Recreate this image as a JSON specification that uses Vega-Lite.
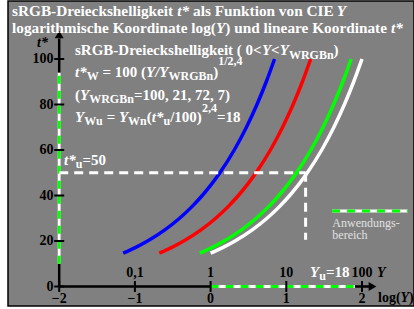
{
  "$schema": "https://vega.github.io/schema/vega-lite/v6.json",
  "width": 406,
  "height": 305,
  "autosize": {"type": "none"},
  "padding": {"left": 8, "top": 1, "right": 0, "bottom": 3},
  "background": "white",
  "config": {
    "view": {"fill": "#808080", "stroke": "#000000", "strokeWidth": 1.5}
  },
  "datasets": {
    "curves": [
      {"c": "Y7", "lx": -1.1549, "t": 14.68}, {"c": "Y7", "lx": -1.0018, "t": 17}, {"c": "Y7", "lx": -0.8324, "t": 20}, {"c": "Y7", "lx": -0.5998, "t": 25}, {"c": "Y7", "lx": -0.4098, "t": 30}, {"c": "Y7", "lx": -0.2491, "t": 35}, {"c": "Y7", "lx": -0.11, "t": 40}, {"c": "Y7", "lx": 0.0128, "t": 45}, {"c": "Y7", "lx": 0.1226, "t": 50}, {"c": "Y7", "lx": 0.3127, "t": 60}, {"c": "Y7", "lx": 0.4733, "t": 70}, {"c": "Y7", "lx": 0.6125, "t": 80}, {"c": "Y7", "lx": 0.7353, "t": 90}, {"c": "Y7", "lx": 0.8451, "t": 100},
      {"c": "Y21", "lx": -0.6778, "t": 14.68}, {"c": "Y21", "lx": -0.5247, "t": 17}, {"c": "Y21", "lx": -0.3553, "t": 20}, {"c": "Y21", "lx": -0.1227, "t": 25}, {"c": "Y21", "lx": 0.0673, "t": 30}, {"c": "Y21", "lx": 0.228, "t": 35}, {"c": "Y21", "lx": 0.3671, "t": 40}, {"c": "Y21", "lx": 0.4899, "t": 45}, {"c": "Y21", "lx": 0.5997, "t": 50}, {"c": "Y21", "lx": 0.7898, "t": 60}, {"c": "Y21", "lx": 0.9504, "t": 70}, {"c": "Y21", "lx": 1.0896, "t": 80}, {"c": "Y21", "lx": 1.2124, "t": 90}, {"c": "Y21", "lx": 1.3222, "t": 100},
      {"c": "Y72", "lx": -0.1427, "t": 14.68}, {"c": "Y72", "lx": 0.0104, "t": 17}, {"c": "Y72", "lx": 0.1798, "t": 20}, {"c": "Y72", "lx": 0.4124, "t": 25}, {"c": "Y72", "lx": 0.6024, "t": 30}, {"c": "Y72", "lx": 0.7631, "t": 35}, {"c": "Y72", "lx": 0.9022, "t": 40}, {"c": "Y72", "lx": 1.025, "t": 45}, {"c": "Y72", "lx": 1.1348, "t": 50}, {"c": "Y72", "lx": 1.3249, "t": 60}, {"c": "Y72", "lx": 1.4855, "t": 70}, {"c": "Y72", "lx": 1.6247, "t": 80}, {"c": "Y72", "lx": 1.7475, "t": 90}, {"c": "Y72", "lx": 1.8573, "t": 100},
      {"c": "Y100", "lx": 0.0, "t": 14.68}, {"c": "Y100", "lx": 0.1531, "t": 17}, {"c": "Y100", "lx": 0.3225, "t": 20}, {"c": "Y100", "lx": 0.5551, "t": 25}, {"c": "Y100", "lx": 0.7451, "t": 30}, {"c": "Y100", "lx": 0.9058, "t": 35}, {"c": "Y100", "lx": 1.0449, "t": 40}, {"c": "Y100", "lx": 1.1677, "t": 45}, {"c": "Y100", "lx": 1.2775, "t": 50}, {"c": "Y100", "lx": 1.4676, "t": 60}, {"c": "Y100", "lx": 1.6282, "t": 70}, {"c": "Y100", "lx": 1.7674, "t": 80}, {"c": "Y100", "lx": 1.8902, "t": 90}, {"c": "Y100", "lx": 2.0, "t": 100}
    ],
    "lines": [
      {"kind": "axis", "x1": -2, "y1": 0, "x2": -2, "y2": 109},
      {"kind": "axis", "x1": -2, "y1": 0, "x2": 2.12, "y2": 0},
      {"kind": "range", "x1": -2, "y1": 10, "x2": -2, "y2": 94},
      {"kind": "range", "x1": 0, "y1": 0, "x2": 1.907, "y2": 0},
      {"kind": "range", "x1": 1.604, "y1": 33.19, "x2": 2.608, "y2": 33.19},
      {"kind": "guide", "x1": -2, "y1": 50, "x2": 1.255, "y2": 50},
      {"kind": "guide", "x1": 1.255, "y1": 50, "x2": 1.255, "y2": 20.5}
    ],
    "yTicks": [{"v": 0, "txt": "0"}, {"v": 20, "txt": "20"}, {"v": 40, "txt": "40"}, {"v": 60, "txt": "60"}, {"v": 80, "txt": "80"}, {"v": 100, "txt": "100"}],
    "xTicks": [{"v": -2, "txt": "−2"}, {"v": -1, "txt": "−1"}, {"v": 0, "txt": "0"}, {"v": 1, "txt": "1"}, {"v": 2, "txt": "2"}],
    "arrows": [{"dir": "up", "ax": -2, "ay": 110.77}, {"dir": "right", "ax": 2.1387, "ay": 0}],
    "titleText": [
      {"txt": "sRGB-Dreieckshelligkeit", "lx": -2.6235, "ly": 118.9},
      {"txt": "als Funktion von CIE", "lx": -0.2325, "ly": 118.9},
      {"txt": "logarithmische Koordinate log(", "lx": -2.6235, "ly": 111.21},
      {"txt": ") und lineare Koordinate", "lx": 0.1948, "ly": 111.21}
    ],
    "titleItalic": [
      {"txt": "t*", "lx": -0.4399, "ly": 118.9},
      {"txt": "Y", "lx": 1.665, "ly": 118.9},
      {"txt": "Y", "lx": 0.0713, "ly": 111.21},
      {"txt": "t*", "lx": 2.3844, "ly": 111.21}
    ],
    "wb": [
      {"txt": "sRGB-Dreieckshelligkeit ( 0<", "lx": -1.7913, "ly": 101.76},
      {"txt": "<", "lx": 0.7992, "ly": 101.76},
      {"txt": ")", "lx": 1.6248, "ly": 101.76},
      {"txt": "= 100 (", "lx": -1.428, "ly": 92.09},
      {"txt": ")", "lx": 0.0343, "ly": 92.09},
      {"txt": "(", "lx": -1.7913, "ly": 81.98},
      {"txt": "=100, 21, 72, 7)", "lx": -1.0132, "ly": 81.98},
      {"txt": "=", "lx": -1.3732, "ly": 72.09},
      {"txt": "(", "lx": -0.8428, "ly": 72.09},
      {"txt": "/100)", "lx": -0.5337, "ly": 72.09},
      {"txt": "=18", "lx": 0.0832, "ly": 72.09},
      {"txt": "=50", "lx": -1.6935, "ly": 53.41},
      {"txt": "=18", "lx": 1.5231, "ly": 4.31}
    ],
    "wbi": [
      {"txt": "Y", "lx": 0.6777, "ly": 101.76},
      {"txt": "Y", "lx": 0.9128, "ly": 101.76},
      {"txt": "t*", "lx": -1.7913, "ly": 92.09},
      {"txt": "Y/Y", "lx": -0.8534, "ly": 92.09},
      {"txt": "Y", "lx": -1.7252, "ly": 81.98},
      {"txt": "Y", "lx": -1.7913, "ly": 72.09},
      {"txt": "Y", "lx": -1.2107, "ly": 72.09},
      {"txt": "t*", "lx": -0.7768, "ly": 72.09},
      {"txt": "t*", "lx": -1.9366, "ly": 53.41},
      {"txt": "Y", "lx": 1.3131, "ly": 4.31}
    ],
    "wsub": [
      {"txt": "WRGBn", "lx": 1.0343, "ly": 100.0},
      {"txt": "W", "lx": -1.6367, "ly": 90.77},
      {"txt": "WRGBn", "lx": -0.5561, "ly": 90.77},
      {"txt": "1/2,4", "lx": 0.1004, "ly": 97.5},
      {"txt": "WRGBn", "lx": -1.6037, "ly": 80.66},
      {"txt": "Wu", "lx": -1.6697, "ly": 70.77},
      {"txt": "Wn", "lx": -1.0898, "ly": 70.77},
      {"txt": "u", "lx": -0.6222, "ly": 70.77},
      {"txt": "2,4", "lx": -0.1149, "ly": 76.7},
      {"txt": "u", "lx": -1.782, "ly": 52.09},
      {"txt": "u", "lx": 1.4346, "ly": 2.86}
    ],
    "kc": [{"txt": "0,1", "lx": -1}, {"txt": "1", "lx": 0}, {"txt": "10", "lx": 1}, {"txt": "100", "lx": 2}],
    "kb": [{"txt": "log(", "lx": 2.2114, "ly": -6.81}, {"txt": ")", "lx": 2.6222, "ly": -6.81}],
    "kbi": [{"txt": "Y", "lx": 2.5093, "ly": -6.81}, {"txt": "Y", "lx": 2.1982, "ly": 4.31}, {"txt": "t*", "lx": -2.2933, "ly": 105.2}],
    "note": [{"txt": "Anwendungs-", "lx": 1.6077, "ly": 26.29}, {"txt": "bereich", "lx": 1.6077, "ly": 20.88}]
  },
  "layer": [
    {
      "data": {"name": "lines"},
      "transform": [{"filter": "datum.kind == 'axis'"}],
      "mark": {"type": "rule", "color": "#000000", "strokeWidth": 2.5},
      "encoding": {
        "x": {"field": "x1", "type": "quantitative", "scale": {"domain": [-2.6764, 2.6869], "nice": false, "zero": false}, "axis": null},
        "y": {"field": "y1", "type": "quantitative", "scale": {"domain": [-8.571, 125.495], "nice": false, "zero": false}, "axis": null},
        "x2": {"field": "x2"}, "y2": {"field": "y2"}
      }
    },
    {
      "data": {"name": "curves"},
      "mark": {"type": "line", "strokeWidth": 3.5, "interpolate": "monotone"},
      "encoding": {
        "x": {"field": "lx", "type": "quantitative", "axis": null},
        "y": {"field": "t", "type": "quantitative", "axis": null},
        "color": {"field": "c", "type": "nominal", "scale": {"domain": ["Y7", "Y21", "Y72", "Y100"], "range": ["#0000ff", "#ff0000", "#00ff00", "#ffffff"]}, "legend": null}
      }
    },
    {
      "data": {"name": "lines"},
      "transform": [{"filter": "datum.kind == 'range'"}],
      "mark": {"type": "rule", "color": "#ffffff", "strokeWidth": 3},
      "encoding": {"x": {"field": "x1", "type": "quantitative", "axis": null}, "y": {"field": "y1", "type": "quantitative", "axis": null}, "x2": {"field": "x2"}, "y2": {"field": "y2"}}
    },
    {
      "data": {"name": "lines"},
      "transform": [{"filter": "datum.kind == 'range'"}],
      "mark": {"type": "rule", "color": "#00ff00", "strokeWidth": 3, "strokeDash": [8, 7]},
      "encoding": {"x": {"field": "x1", "type": "quantitative", "axis": null}, "y": {"field": "y1", "type": "quantitative", "axis": null}, "x2": {"field": "x2"}, "y2": {"field": "y2"}}
    },
    {
      "data": {"name": "lines"},
      "transform": [{"filter": "datum.kind == 'guide'"}],
      "mark": {"type": "rule", "color": "#ffffff", "strokeWidth": 3, "strokeDash": [9, 6]},
      "encoding": {"x": {"field": "x1", "type": "quantitative", "axis": null}, "y": {"field": "y1", "type": "quantitative", "axis": null}, "x2": {"field": "x2"}, "y2": {"field": "y2"}}
    },
    {
      "data": {"name": "yTicks"},
      "mark": {"type": "tick", "orient": "horizontal", "size": 10, "thickness": 2, "color": "#000000", "opacity": 1},
      "encoding": {"x": {"datum": -2, "type": "quantitative", "axis": null}, "y": {"field": "v", "type": "quantitative", "axis": null}}
    },
    {
      "data": {"name": "xTicks"},
      "mark": {"type": "tick", "orient": "vertical", "size": 11, "thickness": 2, "color": "#000000", "opacity": 1},
      "encoding": {"x": {"field": "v", "type": "quantitative", "axis": null}, "y": {"datum": 0.01, "type": "quantitative", "axis": null}}
    },
    {
      "data": {"name": "arrows"},
      "transform": [{"filter": "datum.dir == 'up'"}],
      "mark": {"type": "point", "shape": "triangle-up", "filled": true, "size": 80, "color": "#000000", "opacity": 1},
      "encoding": {"x": {"field": "ax", "type": "quantitative", "axis": null}, "y": {"field": "ay", "type": "quantitative", "axis": null}}
    },
    {
      "data": {"name": "arrows"},
      "transform": [{"filter": "datum.dir == 'right'"}],
      "mark": {"type": "point", "shape": "triangle-right", "filled": true, "size": 80, "color": "#000000", "opacity": 1},
      "encoding": {"x": {"field": "ax", "type": "quantitative", "axis": null}, "y": {"field": "ay", "type": "quantitative", "axis": null}}
    },
    {
      "data": {"name": "yTicks"},
      "mark": {"type": "text", "align": "right", "baseline": "middle", "font": "Liberation Serif", "fontWeight": "bold", "fontSize": 14, "color": "black"},
      "encoding": {"x": {"datum": -2.0753, "type": "quantitative", "axis": null}, "y": {"field": "v", "type": "quantitative", "axis": null}, "text": {"field": "txt"}}
    },
    {
      "data": {"name": "xTicks"},
      "mark": {"type": "text", "align": "center", "baseline": "alphabetic", "font": "Liberation Serif", "fontWeight": "bold", "fontSize": 14, "color": "black"},
      "encoding": {"x": {"field": "v", "type": "quantitative", "axis": null}, "y": {"datum": -7.25, "type": "quantitative", "axis": null}, "text": {"field": "txt"}}
    },
    {
      "data": {"name": "titleText"},
      "mark": {"type": "text", "align": "left", "baseline": "alphabetic", "font": "Liberation Serif", "fontWeight": "bold", "fontSize": 15.3, "color": "white"},
      "encoding": {"x": {"field": "lx", "type": "quantitative", "axis": null}, "y": {"field": "ly", "type": "quantitative", "axis": null}, "text": {"field": "txt"}}
    },
    {
      "data": {"name": "titleItalic"},
      "mark": {"type": "text", "align": "left", "baseline": "alphabetic", "font": "Liberation Serif", "fontWeight": "bold", "fontStyle": "italic", "fontSize": 15.3, "color": "white"},
      "encoding": {"x": {"field": "lx", "type": "quantitative", "axis": null}, "y": {"field": "ly", "type": "quantitative", "axis": null}, "text": {"field": "txt"}}
    },
    {
      "data": {"name": "wb"},
      "mark": {"type": "text", "align": "left", "baseline": "alphabetic", "font": "Liberation Serif", "fontWeight": "bold", "fontSize": 15, "color": "white"},
      "encoding": {"x": {"field": "lx", "type": "quantitative", "axis": null}, "y": {"field": "ly", "type": "quantitative", "axis": null}, "text": {"field": "txt"}}
    },
    {
      "data": {"name": "wbi"},
      "mark": {"type": "text", "align": "left", "baseline": "alphabetic", "font": "Liberation Serif", "fontWeight": "bold", "fontStyle": "italic", "fontSize": 15, "color": "white"},
      "encoding": {"x": {"field": "lx", "type": "quantitative", "axis": null}, "y": {"field": "ly", "type": "quantitative", "axis": null}, "text": {"field": "txt"}}
    },
    {
      "data": {"name": "wsub"},
      "mark": {"type": "text", "align": "left", "baseline": "alphabetic", "font": "Liberation Serif", "fontWeight": "bold", "fontSize": 12, "color": "white"},
      "encoding": {"x": {"field": "lx", "type": "quantitative", "axis": null}, "y": {"field": "ly", "type": "quantitative", "axis": null}, "text": {"field": "txt"}}
    },
    {
      "data": {"name": "kc"},
      "mark": {"type": "text", "align": "center", "baseline": "alphabetic", "font": "Liberation Serif", "fontWeight": "bold", "fontSize": 14, "color": "black"},
      "encoding": {"x": {"field": "lx", "type": "quantitative", "axis": null}, "y": {"datum": 4.31, "type": "quantitative", "axis": null}, "text": {"field": "txt"}}
    },
    {
      "data": {"name": "kb"},
      "mark": {"type": "text", "align": "left", "baseline": "alphabetic", "font": "Liberation Serif", "fontWeight": "bold", "fontSize": 14, "color": "black"},
      "encoding": {"x": {"field": "lx", "type": "quantitative", "axis": null}, "y": {"field": "ly", "type": "quantitative", "axis": null}, "text": {"field": "txt"}}
    },
    {
      "data": {"name": "kbi"},
      "mark": {"type": "text", "align": "left", "baseline": "alphabetic", "font": "Liberation Serif", "fontWeight": "bold", "fontStyle": "italic", "fontSize": 14, "color": "black"},
      "encoding": {"x": {"field": "lx", "type": "quantitative", "axis": null}, "y": {"field": "ly", "type": "quantitative", "axis": null}, "text": {"field": "txt"}}
    },
    {
      "data": {"name": "note"},
      "mark": {"type": "text", "align": "left", "baseline": "alphabetic", "font": "Liberation Serif", "fontSize": 12, "color": "#e0e0e0"},
      "encoding": {"x": {"field": "lx", "type": "quantitative", "axis": null}, "y": {"field": "ly", "type": "quantitative", "axis": null}, "text": {"field": "txt"}}
    }
  ]
}
